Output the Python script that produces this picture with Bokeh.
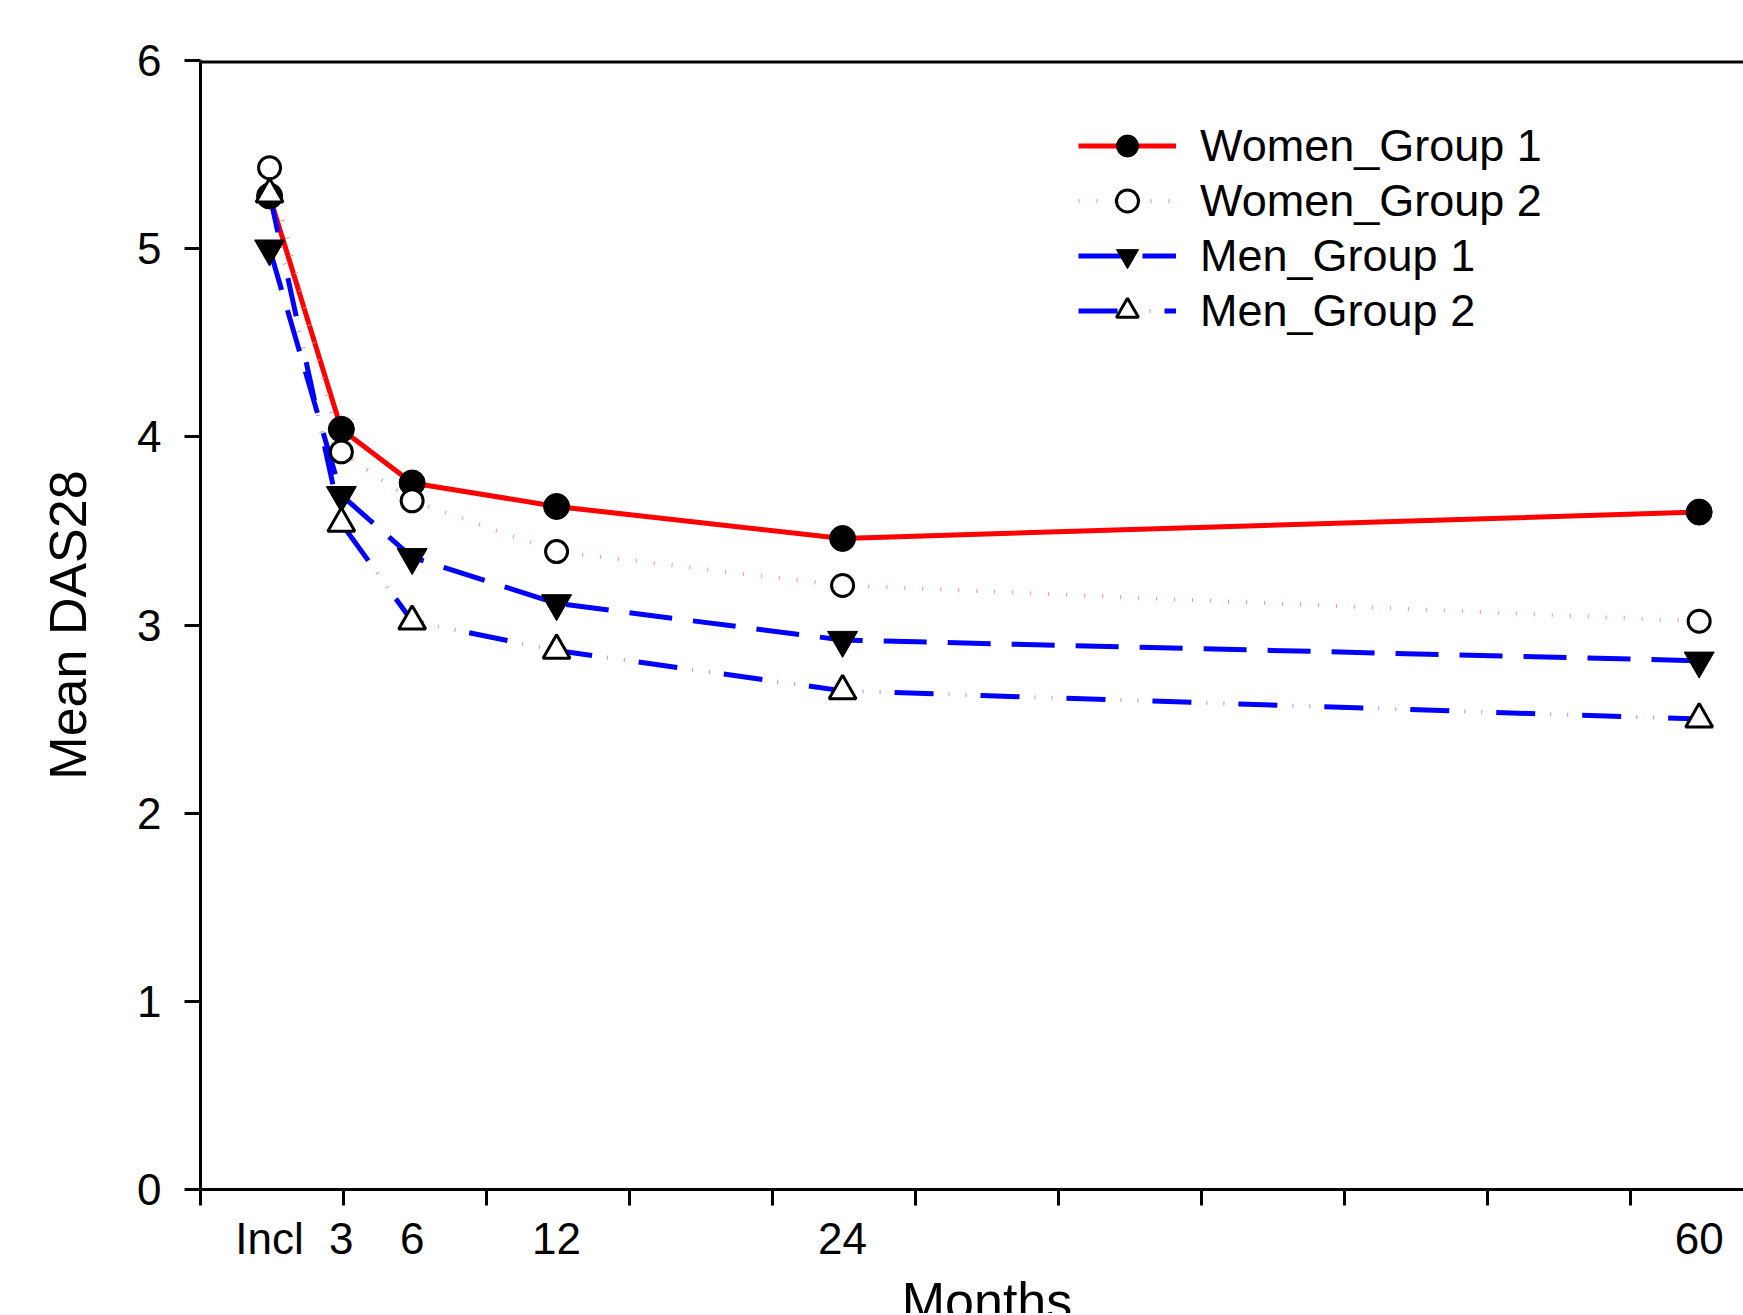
from bokeh.plotting import figure
from bokeh.models import Range1d, FixedTicker, Legend, LegendItem, Label, Span
from bokeh.embed import file_html
from bokeh.resources import INLINE

# ---- data ----
month_labels = ["Incl", "3", "6", "12", "24", "60"]
month_pos = [0.483, 0.985, 1.48, 2.49, 4.49, 10.48]
women_g1 = [5.28, 4.04, 3.755, 3.63, 3.46, 3.60]
women_g2 = [5.43, 3.92, 3.66, 3.39, 3.21, 3.02]
men_g1 = [5.00, 3.69, 3.36, 3.115, 2.92, 2.81]
men_g2 = [5.29, 3.54, 3.02, 2.865, 2.65, 2.50]
y_ticks = [0, 1, 2, 3, 4, 5, 6]
x_minor_ticks = list(range(0, 11))

FONT = "Liberation Sans"

p = figure(width=1743, height=1313,
           x_range=Range1d(0, 10.79), y_range=Range1d(0, 6),
           output_backend="svg", toolbar_location=None,
           min_border_left=200, min_border_right=0,
           min_border_top=60, min_border_bottom=124)
p.outline_line_color = None
p.grid.visible = False
p.background_fill_color = "white"
p.border_fill_color = "white"

# ---- axes ----
xa = p.xaxis[0]
xa.ticker = FixedTicker(ticks=month_pos, minor_ticks=x_minor_ticks)
xa.major_label_overrides = {v: t for v, t in zip(month_pos, month_labels)}
xa.major_tick_line_color = None
xa.major_tick_out = 0
xa.major_tick_in = 0
xa.minor_tick_out = 16
xa.minor_tick_in = 0
xa.minor_tick_line_color = "black"
xa.minor_tick_line_width = 3
xa.axis_line_width = 3
xa.axis_line_color = "black"
xa.major_label_text_font = FONT
xa.major_label_text_font_size = "44px"
xa.major_label_text_color = "black"
xa.major_label_standoff = 8

ya = p.yaxis[0]
ya.ticker = FixedTicker(ticks=y_ticks, minor_ticks=[])
ya.major_tick_out = 16
ya.major_tick_in = 0
ya.major_tick_line_width = 3
ya.major_tick_line_color = "black"
ya.minor_tick_line_color = None
ya.axis_line_width = 3
ya.axis_line_color = "black"
ya.major_label_text_font = FONT
ya.major_label_text_font_size = "44px"
ya.major_label_text_color = "black"
ya.major_label_standoff = 23
ya.axis_label = "Mean DAS28"
ya.axis_label_text_font = FONT
ya.axis_label_text_font_size = "52px"
ya.axis_label_text_font_style = "normal"
ya.axis_label_text_color = "black"
ya.axis_label_standoff = 37

# top frame border (half of it lies inside the frame)
p.add_layout(Span(location=6, dimension="width", line_color="black", line_width=6))

# x-axis title, placed through the data scales from a side panel so it is not clipped
months_label = Label(x=5.5, y=-0.59, x_units="data", y_units="data", text="Months",
                     text_align="center", text_baseline="alphabetic",
                     text_font=FONT, text_font_size="52px", text_color="black")
p.add_layout(months_label, "above")

# ---- lines ----
l_w1 = p.line(month_pos, women_g1, line_color="#ff0000", line_width=5)
l_w2 = p.line(month_pos, women_g2, line_color="#ff8c8c", line_width=4, line_dash="1 17")
l_m1 = p.line(month_pos, men_g1, line_color="#0000ff", line_width=5, line_dash="43 21")
l_m2 = p.line(month_pos, men_g2, line_color="#0000ff", line_width=5, line_dash="39 47")
l_m2d = p.line(month_pos, men_g2, line_color="#9a9aff", line_width=4,
               line_dash="1 16 1 68", line_dash_offset=32)

# ---- markers ----
s_w1 = p.scatter(month_pos, women_g1, marker="circle", size=26,
                 fill_color="black", line_color="black", line_width=1)
s_w2 = p.scatter(month_pos, women_g2, marker="circle", size=22,
                 fill_color="white", line_color="black", line_width=3)
s_m1 = p.scatter(month_pos, men_g1, marker="inverted_triangle", size=30,
                 fill_color="black", line_color="black", line_width=1)
s_m2 = p.scatter(month_pos, men_g2, marker="triangle", size=27,
                 fill_color="white", line_color="black", line_width=3)

legend = Legend(items=[
    LegendItem(label="Women_Group 1", renderers=[l_w1, s_w1]),
    LegendItem(label="Women_Group 2", renderers=[l_w2, s_w2]),
    LegendItem(label="Men_Group 1", renderers=[l_m1, s_m1]),
    LegendItem(label="Men_Group 2", renderers=[l_m2, l_m2d, s_m2]),
], location=(878, 851))
legend.glyph_width = 98
legend.glyph_height = 55
legend.spacing = 0
legend.padding = 0
legend.margin = 0
legend.label_standoff = 24
legend.label_text_font = FONT
legend.label_text_font_size = "45px"
legend.label_text_color = "black"
legend.border_line_color = None
legend.background_fill_alpha = 0
p.add_layout(legend, "center")

open("out.html", "w").write(file_html(p, INLINE))
